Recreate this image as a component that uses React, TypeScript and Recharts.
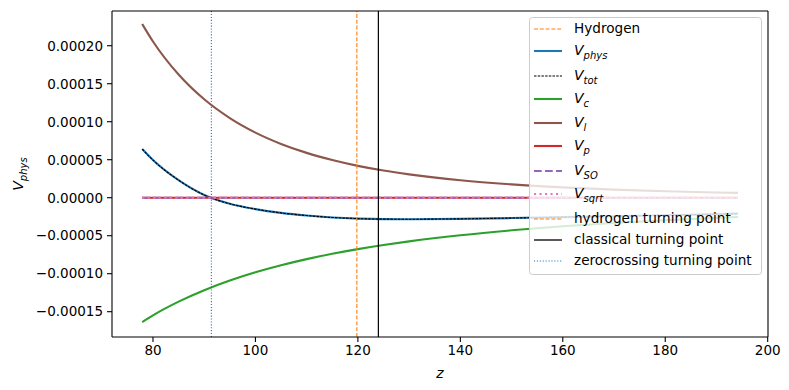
import React from 'react';
import { LineChart, Line, XAxis, YAxis, ReferenceLine, Legend, Label } from 'recharts';

const zValues = [77.9, 80, 85, 90, 95, 100, 105, 110, 115, 120, 125, 130, 140, 150, 160, 170, 180, 190, 194.2];
const hydrogen = [0, 0, 0, 0, 0, 0, 0, 0, 0, 0, 0, 0, 0, 0, 0, 0, 0, 0, 0];
const vPhys = [6.4e-5, 4.95e-5, 2.3e-5, 3.5e-6, -8e-6, -1.5e-5, -2.0e-5, -2.35e-5, -2.6e-5, -2.75e-5, -2.82e-5, -2.83e-5, -2.78e-5, -2.68e-5, -2.56e-5, -2.43e-5, -2.3e-5, -2.16e-5, -2.1e-5];
const vTot = [6.4e-5, 4.95e-5, 2.3e-5, 3.5e-6, -8e-6, -1.5e-5, -2.0e-5, -2.35e-5, -2.6e-5, -2.75e-5, -2.82e-5, -2.83e-5, -2.78e-5, -2.68e-5, -2.56e-5, -2.43e-5, -2.3e-5, -2.16e-5, -2.1e-5];
const vC = [-1.636e-4, -1.548e-4, -1.368e-4, -1.217e-4, -1.09e-4, -9.82e-5, -8.89e-5, -8.08e-5, -7.38e-5, -6.77e-5, -6.23e-5, -5.75e-5, -4.94e-5, -4.29e-5, -3.76e-5, -3.33e-5, -2.96e-5, -2.65e-5, -2.53e-5];
const vL = [2.285e-4, 2.056e-4, 1.621e-4, 1.295e-4, 1.048e-4, 8.57e-5, 7.08e-5, 5.9e-5, 4.96e-5, 4.19e-5, 3.57e-5, 3.07e-5, 2.29e-5, 1.75e-5, 1.36e-5, 1.07e-5, 8.55e-6, 6.93e-6, 6.35e-6];
const vP = [0, 0, 0, 0, 0, 0, 0, 0, 0, 0, 0, 0, 0, 0, 0, 0, 0, 0, 0];
const vSO = [0, 0, 0, 0, 0, 0, 0, 0, 0, 0, 0, 0, 0, 0, 0, 0, 0, 0, 0];
const vSqrt = [0, 0, 0, 0, 0, 0, 0, 0, 0, 0, 0, 0, 0, 0, 0, 0, 0, 0, 0];

const hydrogenTurningPoint = 119.8;
const classicalTurningPoint = 124.0;
const zeroCrossingTurningPoint = 91.4;

const xTicks = [80, 100, 120, 140, 160, 180, 200];
const yTicks = [-0.00015, -0.0001, -0.00005, 0, 0.00005, 0.0001, 0.00015, 0.0002];
const xDomain = [72.0, 200.06];
const yDomain = [-0.0001833, 0.0002457];

const data = zValues.map((z, i) => ({
  z,
  hydrogen: hydrogen[i],
  vPhys: vPhys[i],
  vTot: vTot[i],
  vC: vC[i],
  vL: vL[i],
  vP: vP[i],
  vSO: vSO[i],
  vSqrt: vSqrt[i],
}));

const FONT = 'DejaVu Sans';
const LW = 2.1;
const THIN = 1.1;

type Entry = {
  label: string;
  sub?: string;
  color: string;
  width: number;
  dash?: string;
  y: number;
};

const legendEntries: Entry[] = [
  { label: 'Hydrogen', color: '#ff7f0e', width: THIN, dash: '4,1.8', y: 12 },
  { label: 'V', sub: 'phys', color: '#1f77b4', width: LW, y: 34 },
  { label: 'V', sub: 'tot', color: '#000000', width: THIN, dash: '2.5,1.2', y: 59 },
  { label: 'V', sub: 'c', color: '#2ca02c', width: LW, y: 82 },
  { label: 'V', sub: 'l', color: '#8c564b', width: LW, y: 106 },
  { label: 'V', sub: 'p', color: '#d62728', width: LW, y: 129 },
  { label: 'V', sub: 'SO', color: '#9467bd', width: LW, dash: '7.7,3.3', y: 154 },
  { label: 'V', sub: 'sqrt', color: '#e377c2', width: LW, dash: '2.1,3.4', y: 177 },
  { label: 'hydrogen turning point', color: '#ff7f0e', width: THIN, dash: '4,1.8', y: 202 },
  { label: 'classical turning point', color: '#000000', width: 1.3, y: 223 },
  { label: 'zerocrossing turning point', color: '#1f77b4', width: THIN, dash: '1.1,1.8', y: 244 },
];

const renderLegend = () => (
  <div style={{ width: 233, height: 258 }}>
    <svg width={233} height={258} style={{ display: 'block' }}>
      <rect x={0.5} y={0.5} width={232} height={257} rx={3} fill="#ffffff" fillOpacity={0.8} stroke="#cccccc" strokeWidth={1} />
      {legendEntries.map((e, i) => (
        <g key={i}>
          <line x1={5} x2={33} y1={e.y} y2={e.y} stroke={e.color} strokeWidth={e.width} strokeDasharray={e.dash} />
          {e.sub ? (
            <text x={45} y={e.y - 1} dominantBaseline="central" fontFamily={FONT} fontSize={14} fill="#000">
              <tspan fontStyle="italic">{e.label}</tspan>
              <tspan fontStyle="italic" fontSize={10} dy={4.5}>{e.sub}</tspan>
            </text>
          ) : (
            <text x={45} y={e.y - 1} dominantBaseline="central" fontFamily={FONT} fontSize={13.6} fill="#000">
              {e.label}
            </text>
          )}
        </g>
      ))}
    </svg>
  </div>
);

const fmtY = (v: number) => {
  const s = Math.abs(v).toFixed(5);
  return v < -1e-12 ? '\u2212' + s : s;
};

export default function App() {
  return (
    <div style={{ position: 'absolute', left: 0, top: 0, width: 789, height: 390, background: '#fff' }}>
      <LineChart
        width={789}
        height={390}
        data={data}
        margin={{ top: 11, right: 21, bottom: 0, left: 0 }}
      >
        <XAxis
          dataKey="z"
          type="number"
          domain={xDomain}
          ticks={xTicks}
          allowDataOverflow
          height={53}
          stroke="#000"
          tickSize={5}
          tickMargin={3}
          tick={{ fill: '#000', fontFamily: FONT, fontSize: 13.5 }}
          axisLine={{ stroke: '#000', strokeWidth: 1.1 }}
          tickLine={{ stroke: '#000', strokeWidth: 1.1 }}
        >
          <Label
            content={() => (
              <text x={440} y={373} textAnchor="middle" dominantBaseline="central" fontFamily={FONT} fontSize={14} fontStyle="italic" fill="#000">
                z
              </text>
            )}
          />
        </XAxis>
        <YAxis
          type="number"
          domain={yDomain}
          ticks={yTicks}
          allowDataOverflow
          width={112}
          stroke="#000"
          tickSize={5}
          tickMargin={4}
          tickFormatter={fmtY}
          tick={{ fill: '#000', fontFamily: FONT, fontSize: 13.5 }}
          axisLine={{ stroke: '#000', strokeWidth: 1.1 }}
          tickLine={{ stroke: '#000', strokeWidth: 1.1 }}
        >
          <Label
            content={() => (
              <text x={0} y={0} transform="translate(18,174) rotate(-90)" textAnchor="middle" dominantBaseline="central" fontFamily={FONT} fontSize={14} fill="#000">
                <tspan fontStyle="italic">V</tspan>
                <tspan fontStyle="italic" fontSize={10} dy={4.5}>phys</tspan>
              </text>
            )}
          />
        </YAxis>
        <Line dataKey="hydrogen" type="linear" stroke="#ff7f0e" strokeWidth={THIN} strokeDasharray="4,1.8" dot={false} activeDot={false} isAnimationActive={false} />
        <Line dataKey="vPhys" type="monotone" stroke="#1f77b4" strokeWidth={LW} dot={false} activeDot={false} isAnimationActive={false} />
        <Line dataKey="vTot" type="monotone" stroke="#000000" strokeWidth={THIN} strokeDasharray="2.5,1.2" dot={false} activeDot={false} isAnimationActive={false} />
        <Line dataKey="vC" type="monotone" stroke="#2ca02c" strokeWidth={LW} dot={false} activeDot={false} isAnimationActive={false} />
        <Line dataKey="vL" type="monotone" stroke="#8c564b" strokeWidth={LW} dot={false} activeDot={false} isAnimationActive={false} />
        <Line dataKey="vP" type="linear" stroke="#d62728" strokeWidth={LW} dot={false} activeDot={false} isAnimationActive={false} />
        <Line dataKey="vSO" type="linear" stroke="#9467bd" strokeWidth={LW} strokeDasharray="7.7,3.3" dot={false} activeDot={false} isAnimationActive={false} />
        <Line dataKey="vSqrt" type="linear" stroke="#e377c2" strokeWidth={LW} strokeDasharray="2.1,3.4" dot={false} activeDot={false} isAnimationActive={false} />
        <ReferenceLine x={hydrogenTurningPoint} stroke="#ff7f0e" strokeWidth={THIN} strokeDasharray="4,1.8" />
        <ReferenceLine x={classicalTurningPoint} stroke="#000000" strokeWidth={1.2} />
        <ReferenceLine x={zeroCrossingTurningPoint} stroke="#1f77b4" strokeWidth={THIN} strokeDasharray="1.1,1.8" />
        <ReferenceLine y={yDomain[1]} stroke="#000" strokeWidth={1.1} />
        <ReferenceLine x={xDomain[1]} stroke="#000" strokeWidth={1.1} />
        <Legend
          content={renderLegend}
          layout="horizontal"
          verticalAlign="middle"
          align="center"
          wrapperStyle={{ left: 529, top: 17, width: 233, height: 258 }}
        />
      </LineChart>
    </div>
  );
}
